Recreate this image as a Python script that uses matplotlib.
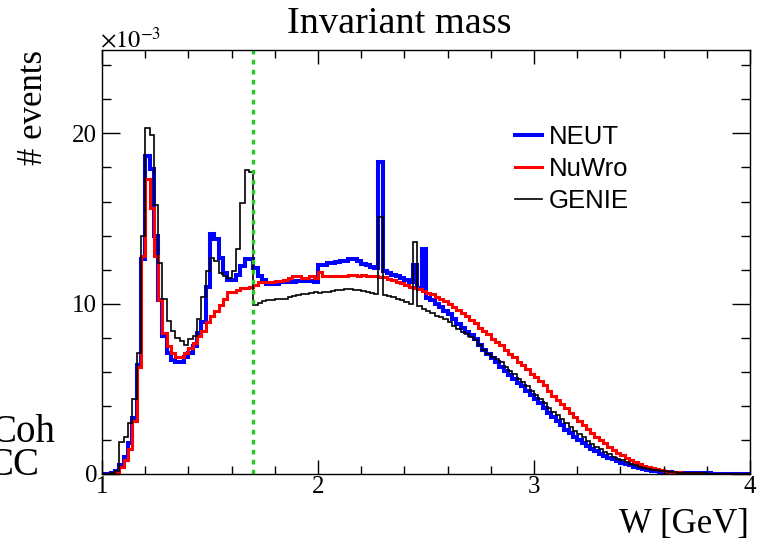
import numpy as np
import matplotlib
matplotlib.use('Agg')
import matplotlib.pyplot as plt
from matplotlib.ticker import MultipleLocator

# bin edges in W [GeV], 0.02 GeV bins
edges = np.round(np.arange(1.0, 4.0 + 1e-9, 0.02), 2)

# bin contents in units of 1e-3 events
neut = [
    0.0, 0.02, 0.05, 0.2, 0.5, 1.0, 1.8, 3.3, 6.4, 12.6,
    18.7, 17.9, 14.0, 10.2, 8.1, 7.1, 6.7, 6.6, 6.6, 6.9,
    7.1, 7.5, 8.3, 8.9, 11.0, 14.1, 13.8, 12.7, 11.8, 11.4,
    11.4, 11.7, 12.2, 12.6, 12.6, 12.1, 11.6, 11.4, 11.15, 11.15,
    11.15, 11.25, 11.25, 11.3, 11.3, 11.35, 11.35, 11.35, 11.35, 11.3,
    12.3, 12.3, 12.4, 12.4, 12.45, 12.5, 12.5, 12.6, 12.6, 12.5,
    12.35, 12.3, 12.15, 12.1, 18.3, 11.9, 11.8, 11.7, 11.6, 11.5,
    11.4, 11.3, 12.3, 10.9, 13.2, 10.35, 10.2, 10.0, 9.8, 9.6,
    9.4, 9.1, 8.8, 8.55, 8.35, 8.15, 7.9, 7.6, 7.3, 7.05,
    6.8, 6.55, 6.3, 6.05, 5.8, 5.6, 5.35, 5.15, 4.9, 4.65,
    4.4, 4.15, 3.85, 3.6, 3.35, 3.1, 2.85, 2.6, 2.4, 2.2,
    2.0, 1.82, 1.65, 1.48, 1.33, 1.2, 1.08, 0.96, 0.86, 0.76,
    0.67, 0.58, 0.5, 0.42, 0.35, 0.29, 0.24, 0.2, 0.17, 0.14,
    0.12, 0.1, 0.08, 0.07, 0.06, 0.05, 0.04, 0.04, 0.03, 0.03,
    0.03, 0.02, 0.02, 0.02, 0.02, 0.01, 0.01, 0.01, 0.01, 0.01,
]
nuwro = [
    0.0, 0.02, 0.05, 0.1, 0.4, 0.85, 1.45, 3.1, 6.3, 12.8,
    17.3, 15.6, 12.8, 10.2, 8.3, 7.5, 7.1, 6.9, 6.9, 7.1,
    7.4, 7.7, 8.1, 8.4, 8.9, 9.3, 9.6, 9.9, 10.3, 10.7,
    10.7, 10.8, 10.9, 10.9, 11.0, 11.1, 11.25, 11.3, 11.3, 11.3,
    11.35, 11.35, 11.4, 11.5, 11.6, 11.6, 11.5, 11.5, 11.6, 11.5,
    11.85, 11.65, 11.65, 11.6, 11.65, 11.65, 11.6, 11.7, 11.7, 11.65,
    11.7, 11.65, 11.6, 11.6, 11.55, 11.55, 11.45, 11.4, 11.3, 11.2,
    11.1, 11.0, 10.95, 10.85, 10.75, 10.65, 10.55, 10.4, 10.3, 10.15,
    10.0, 9.8, 9.65, 9.45, 9.25, 9.05, 8.85, 8.6, 8.4, 8.2,
    7.95, 7.75, 7.55, 7.3, 7.05, 6.85, 6.6, 6.4, 6.15, 5.9,
    5.7, 5.45, 5.2, 4.9, 4.6, 4.35, 4.1, 3.85, 3.6, 3.35,
    3.1, 2.85, 2.65, 2.4, 2.2, 2.0, 1.8, 1.6, 1.42, 1.26,
    1.1, 0.96, 0.83, 0.7, 0.58, 0.48, 0.4, 0.33, 0.27, 0.22,
    0.18, 0.14, 0.11, 0.09, 0.07, 0.05, 0.04, 0.03, 0.03, 0.02,
    0.02, 0.02, 0.01, 0.01, 0.01, 0.01, 0.01, 0.01, 0.01, 0.01,
]
genie = [
    0.0, 0.02, 0.05, 0.15, 1.9, 2.2, 3.0, 4.4, 7.1, 14.0,
    20.3, 19.9, 15.8, 12.4, 10.3, 9.0, 8.4, 8.0, 7.8, 7.6,
    7.9, 8.1, 9.1, 10.4, 11.9, 12.7, 12.5, 11.8, 11.6, 11.5,
    11.9, 13.2, 15.9, 17.85, 17.75, 9.95, 10.05, 10.15, 10.2, 10.2,
    10.3, 10.3, 10.3, 10.4, 10.45, 10.5, 10.55, 10.6, 10.65, 10.7,
    10.65, 10.7, 10.7, 10.75, 10.8, 10.8, 10.85, 10.85, 10.8, 10.8,
    10.75, 10.7, 10.65, 10.55, 15.1, 10.5, 10.45, 10.4, 10.3, 10.2,
    10.1, 10.0, 13.6, 9.85, 9.7, 9.55, 9.45, 9.3, 9.2, 9.1,
    8.95, 8.7, 8.5, 8.35, 8.2, 8.05, 7.85, 7.6, 7.3, 7.05,
    6.9, 6.75, 6.55, 6.3, 6.05, 5.85, 5.6, 5.4, 5.15, 4.9,
    4.65, 4.4, 4.15, 3.9, 3.65, 3.45, 3.25, 3.0, 2.75, 2.55,
    2.35, 2.15, 1.95, 1.78, 1.6, 1.45, 1.3, 1.15, 1.02, 0.9,
    0.8, 0.7, 0.6, 0.52, 0.44, 0.37, 0.31, 0.26, 0.22, 0.18,
    0.15, 0.12, 0.1, 0.08, 0.06, 0.05, 0.04, 0.04, 0.03, 0.03,
    0.02, 0.02, 0.02, 0.02, 0.01, 0.01, 0.01, 0.01, 0.01, 0.01,
]
w_cut = 1.7

plt.rcParams['font.family'] = ['Liberation Serif', 'DejaVu Serif']
plt.rcParams['mathtext.fontset'] = 'stix'

W, H = 760, 543
fig = plt.figure(figsize=(W / 100, H / 100), dpi=100)
ax = fig.add_axes([102 / W, 1 - 474 / H, (750 - 102) / W, (474 - 50) / H])

ax.stairs(neut, edges, baseline=None, color='#0000ff', lw=2.9, label='NEUT')
ax.stairs(nuwro, edges, baseline=None, color='#ff0000', lw=2.2, label='NuWro')
ax.stairs(genie, edges, baseline=None, color='black', lw=1.2, label='GENIE')
ax.axvline(w_cut, color='#22cc22', lw=2.4, dashes=(1.4, 1.6), dash_capstyle='butt')

ax.set_xlim(1, 4)
ax.set_ylim(0, 24.9)
ax.set_xticks([1, 2, 3, 4], ['1', '2', '3', '4'])
ax.set_yticks([0, 10, 20], ['0', '10', '20'])
ax.xaxis.set_minor_locator(MultipleLocator(0.2))
ax.yaxis.set_minor_locator(MultipleLocator(2))
ax.tick_params(which='both', direction='in', top=True, right=True, labelsize=18, width=1)
ax.tick_params(axis='x', which='major', length=10, pad=1.5)
ax.tick_params(axis='x', which='minor', length=5.5)
ax.tick_params(axis='y', which='major', length=13, pad=3.5)
ax.tick_params(axis='y', which='minor', length=6.5)
for s in ax.spines.values():
    s.set_linewidth(1)

fig.text(399 / W, 1 - 33 / H, 'Invariant mass', ha='center', va='baseline', fontsize=27.5)
fig.text(100 / W, 1 - 48 / H, r'$\times10^{-3}$', ha='left', va='baseline', fontsize=17.5)
fig.text(33 / W, 1 - 50 / H, '# events', rotation=90, ha='center', va='top', fontsize=25)
fig.text(749 / W, 1 - 533 / H, 'W [GeV]', ha='right', va='baseline', fontsize=25)
fig.text(55 / W, 1 - 442 / H, 'Coh', ha='right', va='baseline', fontsize=28)
fig.text(39 / W, 1 - 475 / H, 'CC', ha='right', va='baseline', fontsize=28)

ax.legend(loc='upper left', bbox_to_anchor=(515 / W, 1 - 124.5 / H),
          bbox_transform=fig.transFigure, frameon=False, borderpad=0,
          borderaxespad=0, handlelength=1.05, handletextpad=0.25,
          labelspacing=0.33, prop={'family': 'Liberation Sans', 'size': 18.5})

fig.savefig('out.png', dpi=100)
